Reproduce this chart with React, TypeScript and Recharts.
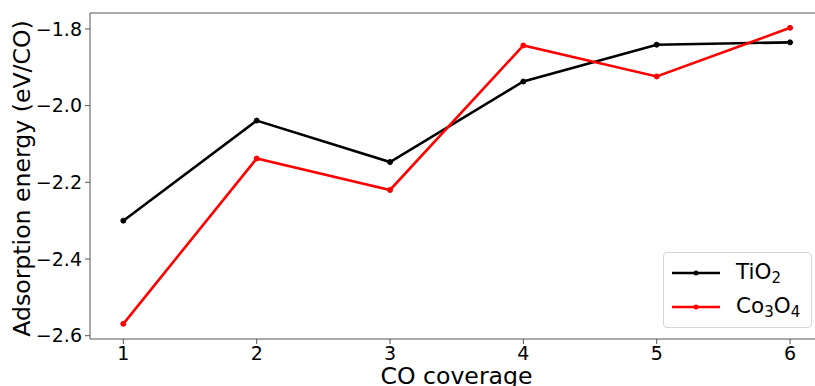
import { Line, LineChart, ReferenceLine, XAxis, YAxis } from 'recharts'

const coverage = [1, 2, 3, 4, 5, 6]
const tio2Energy = [-2.3, -2.039, -2.147, -1.937, -1.841, -1.835]
const co3o4Energy = [-2.569, -2.138, -2.22, -1.843, -1.924, -1.797]
const xTicks = [1, 2, 3, 4, 5, 6]
const yTicks = [-2.6, -2.4, -2.2, -2.0, -1.8]

const X_DOMAIN: [number, number] = [0.75, 6.25]
const Y_DOMAIN: [number, number] = [-2.6086, -1.7584]

const data = coverage.map((c, i) => ({
  coverage: c,
  tio2: tio2Energy[i],
  co3o4: co3o4Energy[i],
}))

const FONT = '"DejaVu Sans", sans-serif'
const SPINE = '#555'

function formatY(value: number) {
  return value.toFixed(1).replace('-', '\u2212')
}

function LegendBox() {
  const sub = { fontSize: 15, verticalAlign: -4 }
  const row = (color: string, label: React.ReactNode) => (
    <div style={{ display: 'flex', alignItems: 'center', height: 34 }}>
      <svg width={60} height={10} style={{ marginRight: 10 }}>
        <line x1={6} y1={5} x2={54} y2={5} stroke={color} strokeWidth={2.5} />
        <circle cx={30} cy={5} r={2.5} fill={color} />
      </svg>
      <span>{label}</span>
    </div>
  )
  return (
    <div
      style={{
        position: 'absolute',
        left: 663,
        top: 252,
        width: 149,
        height: 76,
        boxSizing: 'border-box',
        border: '1px solid #d5d5d5',
        borderRadius: 4,
        background: 'rgba(255,255,255,0.85)',
        fontFamily: FONT,
        fontSize: 21.5,
        color: '#000',
        padding: '3px 0 0 2px',
      }}
    >
      {row('#000000', (
        <>
          TiO<sub style={sub}>2</sub>
        </>
      ))}
      {row('#ff0000', (
        <>
          Co<sub style={sub}>3</sub>O<sub style={sub}>4</sub>
        </>
      ))}
    </div>
  )
}

export default function App() {
  return (
    <div
      style={{
        position: 'absolute',
        left: 0,
        top: 0,
        width: 815,
        height: 386,
        overflow: 'hidden',
        background: '#fff',
      }}
    >
      <LineChart
        width={840}
        height={386}
        data={data}
        margin={{ top: 13, right: 16.6, bottom: 17, left: 10 }}
      >
        <XAxis
          type="number"
          dataKey="coverage"
          domain={X_DOMAIN}
          ticks={xTicks}
          allowDataOverflow
          height={30}
          stroke={SPINE}
          tickSize={5}
          tickMargin={3}
          tick={{ fontSize: 19, fill: '#000', fontFamily: FONT }}
          label={{
            content: () => (
              <text
                x={456.5}
                y={384}
                textAnchor="middle"
                fontSize={23.6}
                fontFamily={FONT}
                fill="#000"
              >
                CO coverage
              </text>
            ),
          }}
        />
        <YAxis
          type="number"
          domain={Y_DOMAIN}
          ticks={yTicks}
          allowDataOverflow
          width={80}
          stroke={SPINE}
          tickSize={5}
          tickMargin={3}
          tickFormatter={formatY}
          tick={{ fontSize: 19, fill: '#000', fontFamily: FONT }}
          label={{
            content: () => (
              <text
                x={30}
                y={178.5}
                transform="rotate(-90 30 178.5)"
                textAnchor="middle"
                fontSize={23.6}
                fontFamily={FONT}
                fill="#000"
              >
                Adsorption energy (eV/CO)
              </text>
            ),
          }}
        />
        <ReferenceLine y={Y_DOMAIN[1]} stroke={SPINE} strokeWidth={1} />
        <ReferenceLine x={X_DOMAIN[1]} stroke={SPINE} strokeWidth={1} />
        <Line
          dataKey="tio2"
          stroke="#000000"
          strokeWidth={2.6}
          dot={{ r: 2.5, fill: '#000000', stroke: '#000000', strokeWidth: 1 }}
          isAnimationActive={false}
        />
        <Line
          dataKey="co3o4"
          stroke="#ff0000"
          strokeWidth={2.6}
          dot={{ r: 2.5, fill: '#ff0000', stroke: '#ff0000', strokeWidth: 1 }}
          isAnimationActive={false}
        />
      </LineChart>
      <LegendBox />
    </div>
  )
}
